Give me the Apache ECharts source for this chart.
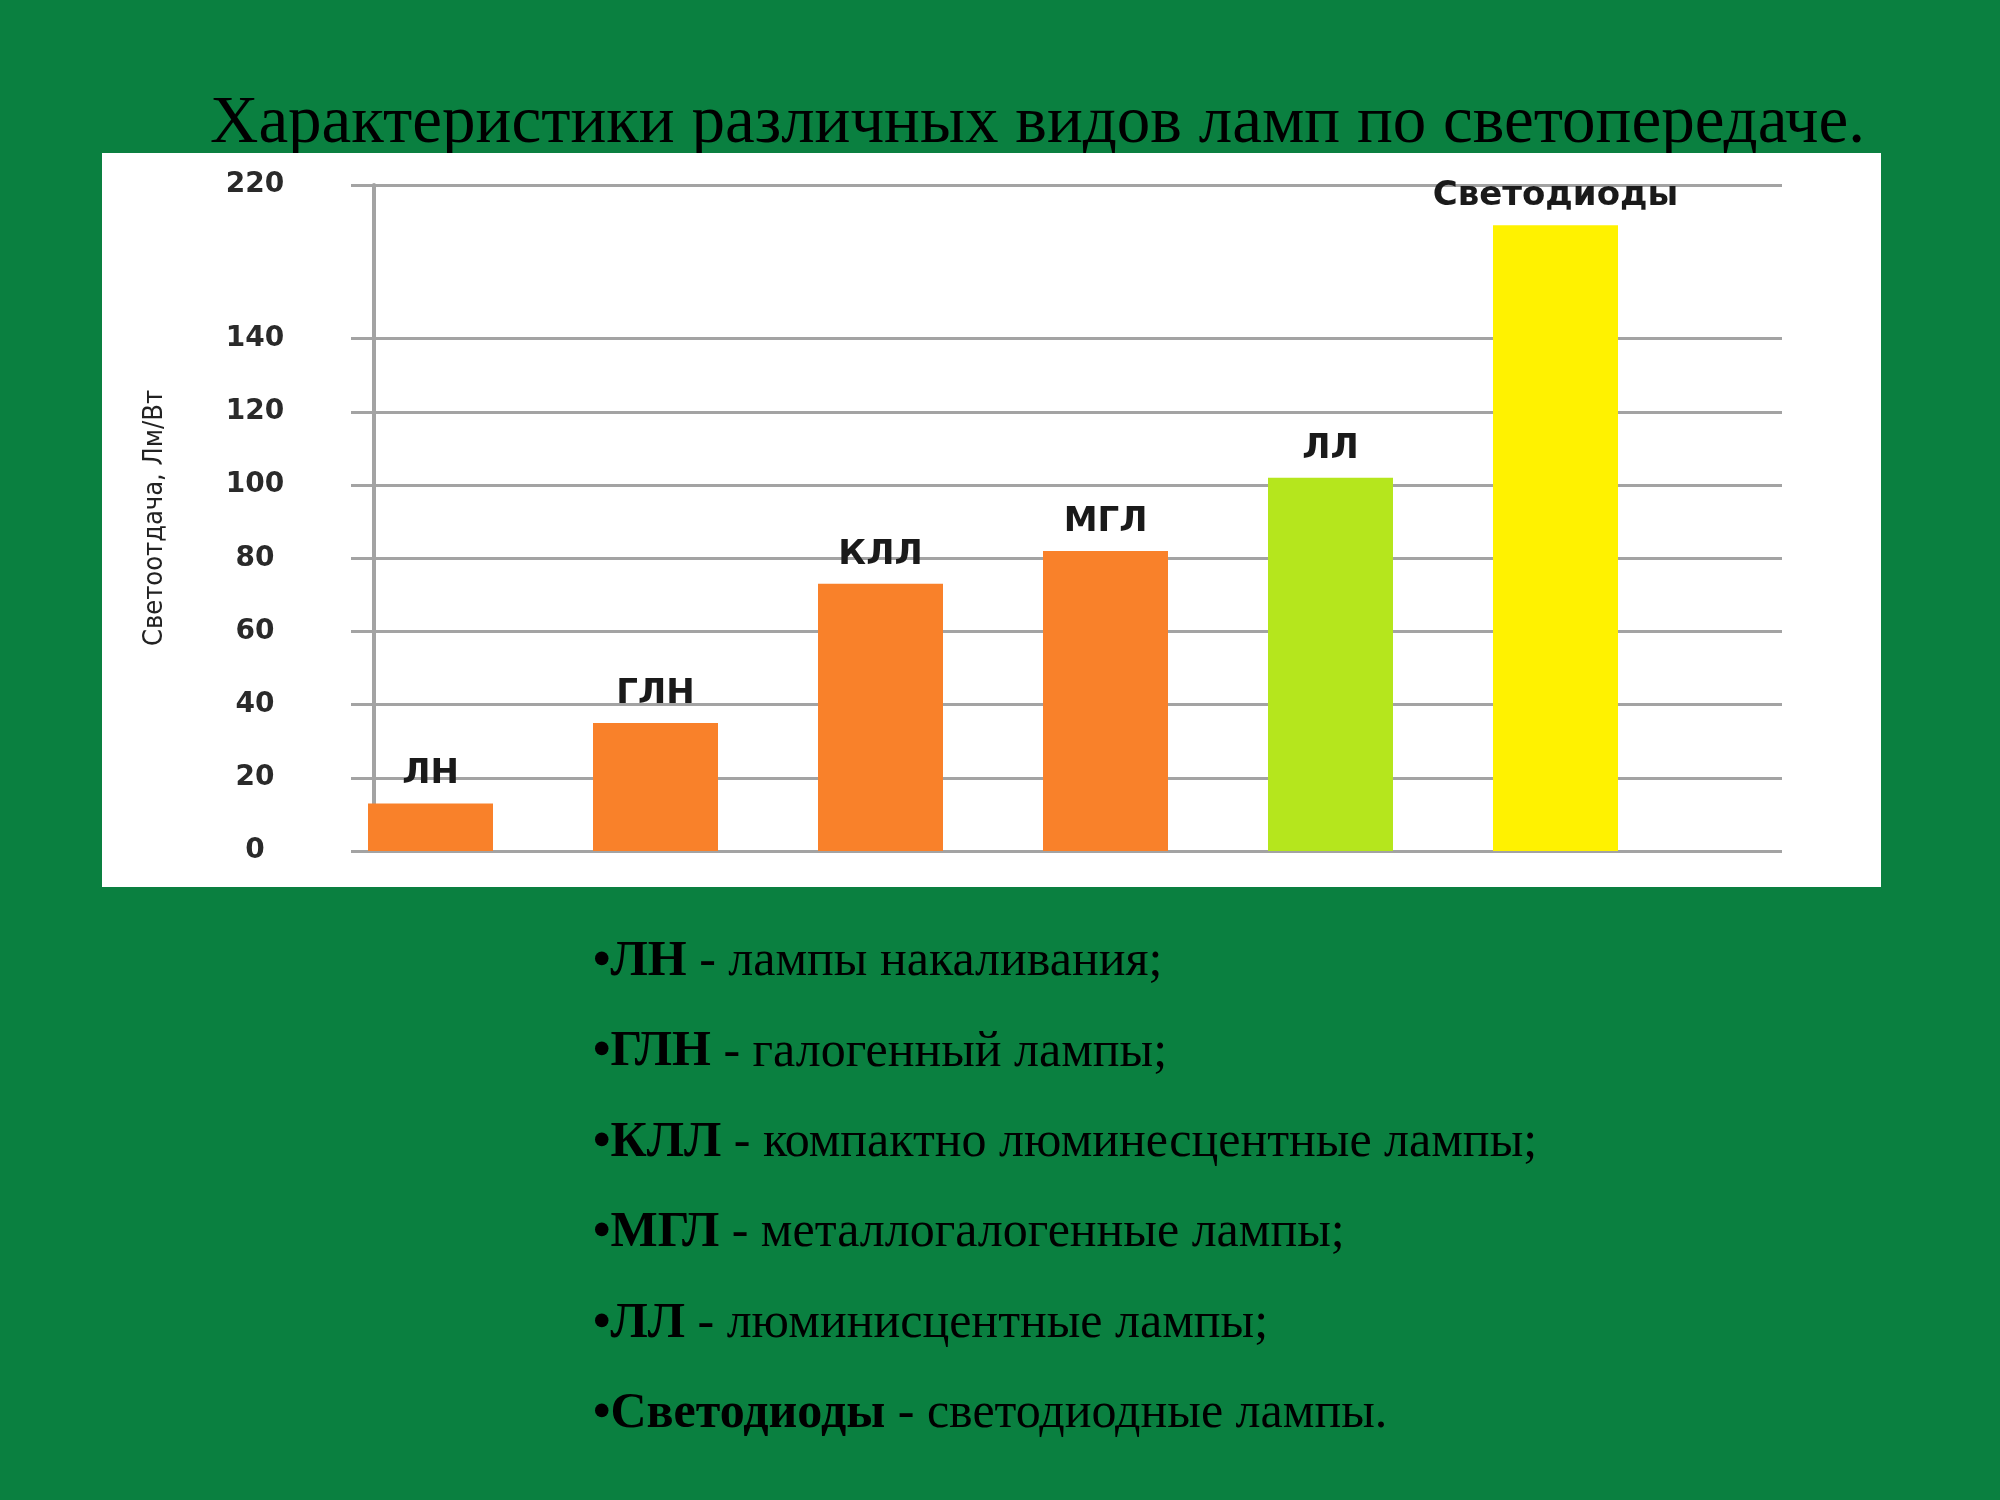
<!DOCTYPE html>
<html>
<head>
<meta charset="utf-8">
<script src="https://cdn.jsdelivr.net/npm/echarts@6/dist/echarts.min.js"></script>
<style>html,body{margin:0;padding:0;background:#0a8040;}#c{width:2000px;height:1500px;}</style>
</head>
<body>
<div id="c"></div>
<script>
const titleText = 'Характеристики различных видов ламп по светопередаче.';
const axisName = 'Светоотдача, Лм/Вт';
const categories = ['ЛН', 'ГЛН', 'КЛЛ', 'МГЛ', 'ЛЛ', 'Светодиоды'];
const values = [13, 35, 73, 82, 102, 171];
const barColors = ['#F9812A', '#F9812A', '#F9812A', '#F9812A', '#B5E61D', '#FFF200'];
const yTickValues = [0, 20, 40, 60, 80, 100, 120, 140, 182];
const yTickLabels = ['0', '20', '40', '60', '80', '100', '120', '140', '220'];
const yMax = 182;
const legendTerms = ['ЛН', 'ГЛН', 'КЛЛ', 'МГЛ', 'ЛЛ', 'Светодиоды'];
const legendDescs = ['лампы накаливания;', 'галогенный лампы;', 'компактно люминесцентные лампы;',
  'металлогалогенные лампы;', 'люминисцентные лампы;', 'светодиодные лампы.'];

const chart = echarts.init(document.getElementById('c'), null, {renderer: 'canvas'});

const gridLine = '#a3a3a3';
const serif = "'Liberation Serif', 'Times New Roman', serif";

const legendGraphics = legendTerms.map((t, i) => ({
  type: 'text',
  left: 593,
  top: 937 + i * 90.4,
  z: 5,
  style: {
    text: '{b|•' + t + '} - ' + legendDescs[i],
    fontFamily: serif,
    fontSize: 50,
    fill: '#000',
    rich: {
      b: {fontFamily: serif, fontSize: 50, fontWeight: 'bold', fill: '#000'}
    }
  }
}));

const option = {
  backgroundColor: '#0a8040',
  animation: false,
  graphic: [
    {
      type: 'text', left: 210, top: 91, z: -20,
      style: {text: titleText, fontFamily: serif, fontSize: 67, fill: '#000'}
    },
    {
      type: 'rect', z: -10,
      shape: {x: 102, y: 153, width: 1779, height: 734},
      style: {fill: '#ffffff'}
    }
  ].concat(legendGraphics),
  grid: [
    {left: 374, right: 218, top: 185, bottom: 649},
    {left: 318, right: 332, top: 185, bottom: 649}
  ],
  xAxis: [
    {gridIndex: 0, type: 'value', min: 0, max: 1, show: false},
    {gridIndex: 1, type: 'category', data: categories, show: false}
  ],
  yAxis: [
    {
      gridIndex: 0, type: 'value', min: 0, max: yMax, interval: 20,
      name: axisName, nameLocation: 'middle', nameGap: 206,
      nameTextStyle: {fontFamily: "'DejaVu Sans Condensed', 'DejaVu Sans', sans-serif", fontSize: 27, color: '#222'},
      axisLine: {show: true, lineStyle: {color: gridLine, width: 4}},
      axisTick: {show: true, length: 23, customValues: yTickValues, lineStyle: {color: gridLine, width: 3}},
      axisLabel: {
        customValues: yTickValues, margin: 119, align: 'center',
        fontFamily: 'DejaVu Sans', fontWeight: 'bold', fontSize: 28, color: '#2a2a2a',
        formatter: v => yTickLabels[yTickValues.indexOf(v)]
      },
      splitLine: {show: true, lineStyle: {color: gridLine, width: 3}}
    },
    {gridIndex: 1, type: 'value', min: 0, max: yMax, show: false, splitLine: {show: false}}
  ],
  series: [{
    type: 'bar',
    xAxisIndex: 1, yAxisIndex: 1,
    data: values,
    barWidth: 125,
    itemStyle: {color: p => barColors[p.dataIndex]},
    label: {
      show: true, position: 'top', distance: 12, formatter: '{b}',
      fontFamily: 'DejaVu Sans', fontWeight: 'bold', fontSize: 34, color: '#1a1a1a'
    }
  }]
};
chart.setOption(option);
</script>
</body>
</html>
